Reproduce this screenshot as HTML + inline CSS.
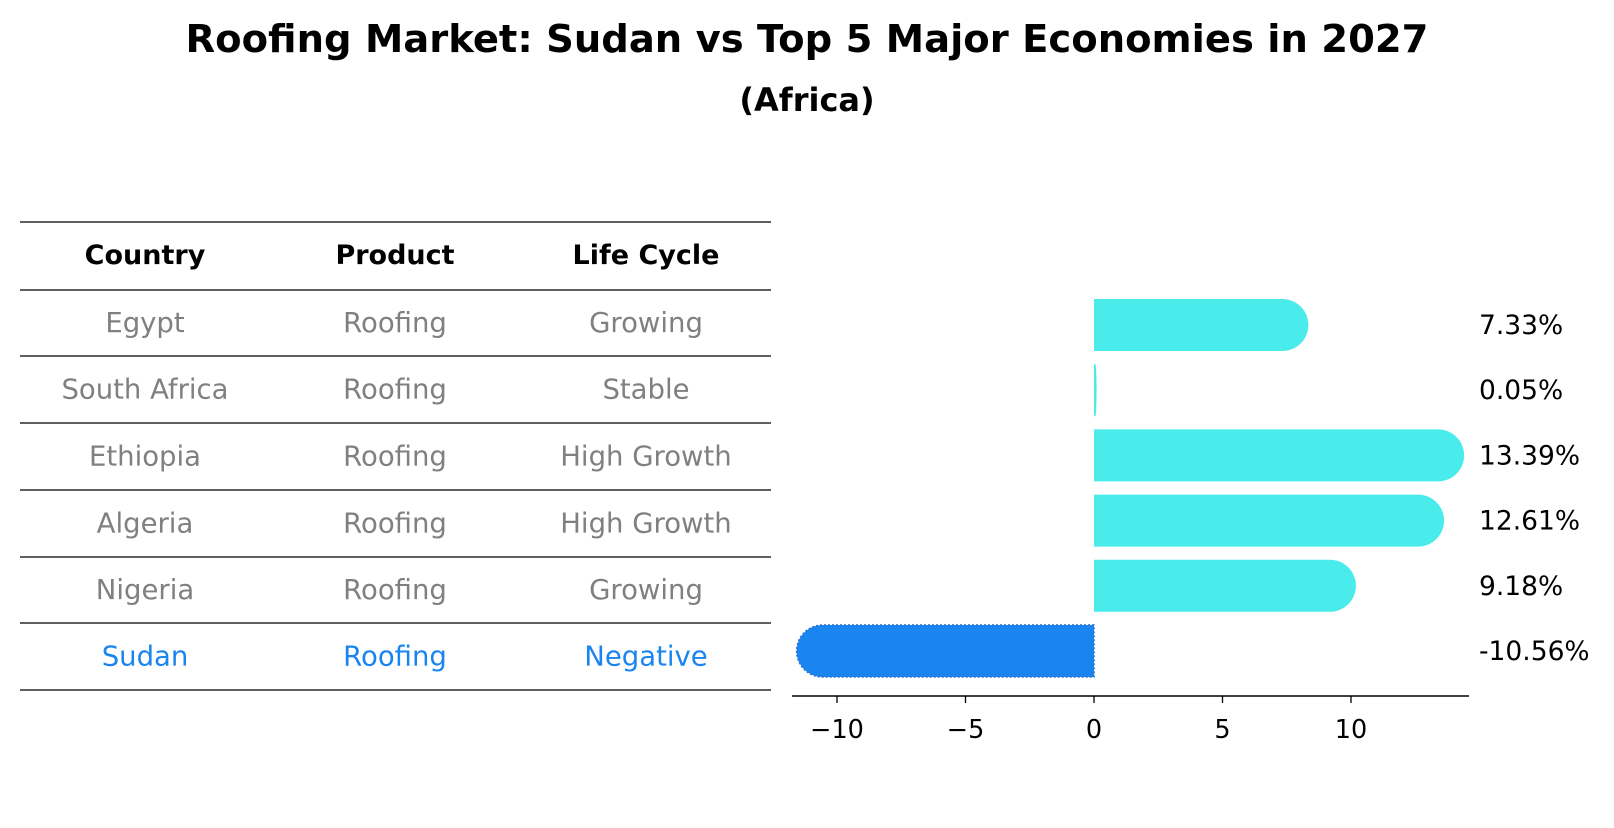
<!DOCTYPE html>
<html><head><meta charset="utf-8"><style>
body{margin:0;background:#fff;}
svg text{font-family:"DejaVu Sans","Liberation Sans",sans-serif;}
</style></head><body>
<svg id="c" width="1614" height="823" xmlns="http://www.w3.org/2000/svg">
<text x="807" y="52" text-anchor="middle" font-size="38.5" font-weight="bold">Roofing Market: Sudan vs Top 5 Major Economies in 2027</text>
<text x="807" y="111" text-anchor="middle" font-size="32" font-weight="bold">(Africa)</text>
<g id="table"></g>
<g id="bars"></g>
</svg>
<script>
const countries=["Egypt","South Africa","Ethiopia","Algeria","Nigeria","Sudan"];
const products=["Roofing","Roofing","Roofing","Roofing","Roofing","Roofing"];
const lifeCycles=["Growing","Stable","High Growth","High Growth","Growing","Negative"];
const values=[7.33,0.05,13.39,12.61,9.18,-10.56];
const ticks=[-10,-5,0,5,10];
const NS="http://www.w3.org/2000/svg";
function mk(t,a,p){const e=document.createElementNS(NS,t);for(const k in a)e.setAttribute(k,a[k]);p.appendChild(e);return e;}
const tb=document.getElementById('table'),bg=document.getElementById('bars');
const lineYs=[222,290,356,423,490,557,623,690];
const colX=[145,395,646];
lineYs.forEach((y,i)=>{const l=mk('line',{x1:20,x2:771,y1:y,y2:y,stroke:'#000','stroke-width':1.2},tb);

});
["Country","Product","Life Cycle"].forEach((h,i)=>{const t=mk('text',{x:colX[i],y:264,'text-anchor':'middle','font-size':27,'font-weight':'bold'},tb);t.textContent=h;

});
countries.forEach((c,r)=>{const col=c==="Sudan"?'#1a85f0':'#808080';
const y=(lineYs[r+1]+lineYs[r+2])/2+9;
[c,products[r],lifeCycles[r]].forEach((v,i)=>{const t=mk('text',{x:colX[i],y:y,'text-anchor':'middle','font-size':27.5,fill:col},tb);t.textContent=v;

});});
const x0=1094,ppu=25.7;
const X=v=>x0+v*ppu;
const rowY=i=>325+i*65.2;
const h=52;
values.forEach((v,i)=>{const cy=rowY(i),top=cy-h/2,bot=cy+h/2;
const len=Math.abs(v*ppu);const r=Math.min(h/2,len);const end=X(v);const dir=v>=0?1:-1;
const d=`M${x0},${top} L${end},${top} A${r},${h/2} 0 0 ${dir>0?1:0} ${end},${bot} L${x0},${bot} Z`;
const col=v<0?'#1a85f0':'#4aeceb';
const p=mk('path',{d:d,fill:col},bg);
if(v<0){p.setAttribute('stroke','#2a6fd0');p.setAttribute('stroke-dasharray','2,2');p.setAttribute('stroke-width','1.5');}


const t=mk('text',{x:1479,y:cy+9,'font-size':26.5},bg);t.textContent=v.toFixed(2)+'%';

});
const ax=mk('line',{x1:792,x2:1469,y1:696,y2:696,stroke:'#000','stroke-width':1.5},bg);


ticks.forEach(t=>{const tk=mk('line',{x1:X(t),x2:X(t),y1:696,y2:703,stroke:'#000','stroke-width':1.3},bg);


const l=mk('text',{x:X(t),y:738,'text-anchor':'middle','font-size':25.5},bg);l.textContent=t<0?'\u2212'+Math.abs(t):String(t);

});
</script>
</body></html>
